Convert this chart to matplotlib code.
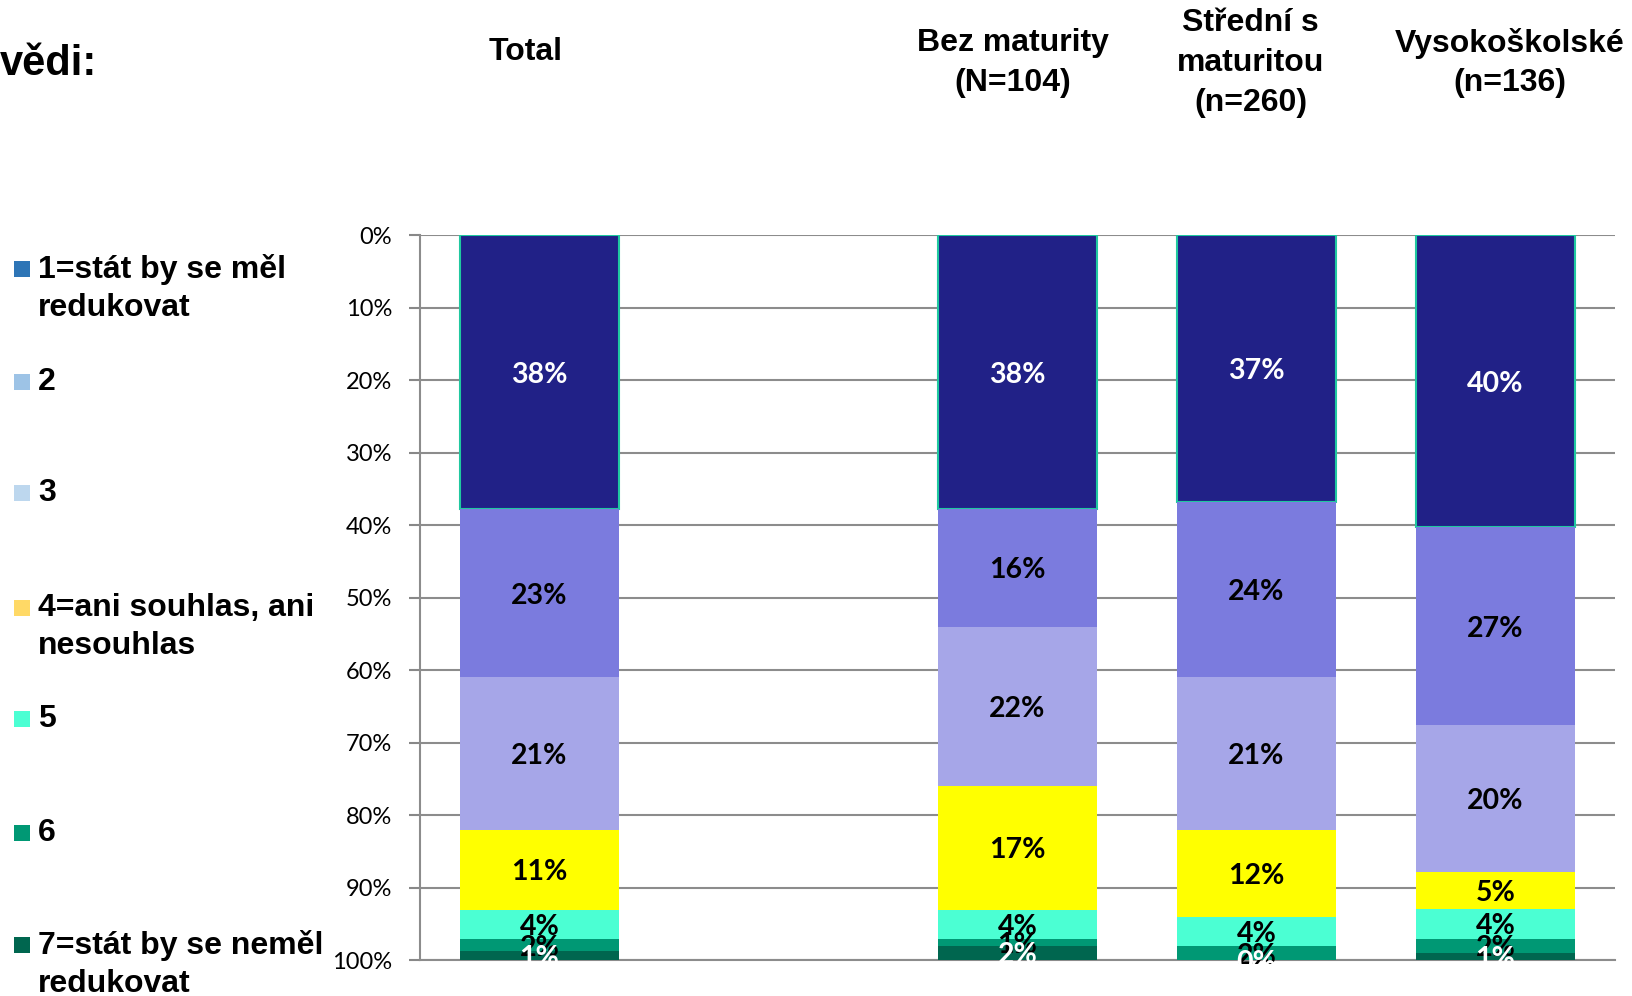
import matplotlib
matplotlib.use("Agg")
import matplotlib.pyplot as plt
from matplotlib.patches import Rectangle
import numpy as np

# ---- data ----
categories = ["Total", "", "Bez maturity\n(N=104)", "Střední s\nmaturitou\n(n=260)", "Vysokoškolské\n(n=136)"]
series_names = ["1=stát by se měl\nredukovat", "2", "3", "4=ani souhlas, ani\nnesouhlas", "5", "6",
                "7=stát by se neměl\nredukovat"]
# percentages per category (None = empty slot)
total = [37.8, 23.2, 21.0, 11.1, 4.0, 1.7, 1.2]
bez_maturity = [37.8, 16.2, 22.0, 17.1, 4.0, 0.9, 2.0]
stredni = [36.8, 24.2, 21.0, 12.1, 4.0, 1.9, 0.0]
vysokoskolske = [40.3, 27.3, 20.3, 5.0, 4.2, 1.9, 1.0]
values = [total, None, bez_maturity, stredni, vysokoskolske]
y_ticks = [0, 10, 20, 30, 40, 50, 60, 70, 80, 90, 100]

bar_colors = ["#212187", "#7B7BDE", "#A6A6E8", "#FFFF00", "#4BFFD3", "#009874", "#00664F"]
legend_colors = ["#2E75B6", "#9DC3E6", "#BDD7EE", "#FFD966", "#4BFFD3", "#009874", "#00664F"]
label_colors = ["white", "black", "black", "black", "black", "black", "white"]

W, H = 1633, 996
fig = plt.figure(figsize=(W / 100, H / 100), dpi=100)
ax = fig.add_axes([420 / W, (H - 960) / H, (1615 - 420) / W, (960 - 235) / H])

bold_font = ["Liberation Sans", "DejaVu Sans"]
num_font = ["Lato", "DejaVu Sans"]

width = 0.665
for i, vals in enumerate(values):
    if vals is None:
        continue
    bottom = 0.0
    for k, v in enumerate(vals):
        ec = "#20C8A0" if k == 0 else "none"
        ax.bar(i, v, width=width, bottom=bottom, color=bar_colors[k], edgecolor=ec,
               linewidth=1.5 if k == 0 else 0, zorder=3)
        ax.text(i, bottom + v / 2, f"{round(v):d}%", ha="center", va="center_baseline",
                fontsize=20.5, fontweight="bold", color=label_colors[k], family=num_font, zorder=5)
        bottom += v

ax.set_xlim(-0.5, len(categories) - 0.5)
ax.set_ylim(100, 0)
ax.set_yticks(y_ticks)
ax.set_yticklabels([f"{t}%" for t in y_ticks], family=num_font, fontsize=17)
ax.set_xticks([])
ax.tick_params(axis="y", length=8, width=1.5, color="#888888", pad=12)
ax.yaxis.grid(True, color="#8C8C8C", linewidth=1.5, zorder=0)
for s in ["top", "right"]:
    ax.spines[s].set_visible(False)
ax.spines["left"].set_color("#8C8C8C")
ax.spines["left"].set_linewidth(1.5)
ax.spines["bottom"].set_color("#8C8C8C")
ax.spines["bottom"].set_linewidth(1.5)

# category headings above the chart
offsets = [-0.06, 0, -0.02, -0.025, 0.06]
for i, cat in enumerate(categories):
    if not cat:
        continue
    yc = 52 if cat.count("\n") == 0 else 63
    fig.text((420 + (i + offsets[i] + 0.5) * 239) / W, 1 - yc / H, cat, ha="center", va="center",
             fontsize=23, fontweight="bold", family=bold_font, linespacing=1.42)

# partial title at left
fig.text(0, 1 - 64 / H, "vědi:", ha="left", va="center", fontsize=30, fontweight="bold", family=bold_font)

# legend (manual)
legend_y = [269, 382, 493, 608, 719, 833, 945]
for name, col, yc in zip(series_names, legend_colors, legend_y):
    fig.patches.append(Rectangle((14 / W, 1 - (yc + 8) / H), 16 / W, 16 / H,
                                 transform=fig.transFigure, facecolor=col, edgecolor="none"))
    fig.text(38 / W, 1 - (yc - 15) / H, name, ha="left", va="top", fontsize=23, fontweight="bold",
             family=bold_font, linespacing=1.33)

fig.savefig("out.png", dpi=100)
